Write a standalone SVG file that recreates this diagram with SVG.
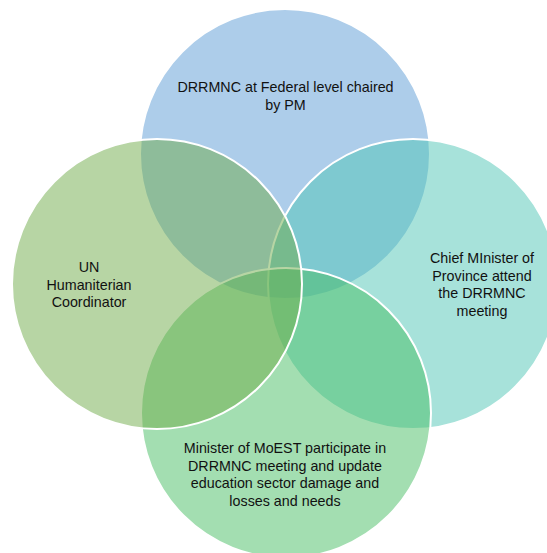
<svg xmlns="http://www.w3.org/2000/svg" width="547" height="553" viewBox="0 0 547 553">
<style>
.c{fill-opacity:0.5;stroke:#ffffff;stroke-width:2}
.t{font-family:"Liberation Sans",Arial,sans-serif;font-size:14.3px;fill:#111111;text-anchor:middle}
</style>
<rect width="547" height="553" fill="#ffffff"/>
<g id="connectors"></g>
<g id="node-top">
<circle class="c" cx="285" cy="154" r="145" fill="#5B9BD5"/>
<text class="t" x="285.5"><tspan x="285.5" y="92">DRRMNC at Federal level chaired</tspan><tspan x="285.5" y="110">by PM</tspan></text>
</g>
<g id="node-right">
<circle class="c" cx="413" cy="284" r="145" fill="#4FC5B5"/>
<text class="t"><tspan x="482" y="263">Chief MInister of</tspan><tspan x="482" y="280.5">Province attend</tspan><tspan x="482" y="298">the DRRMNC</tspan><tspan x="482" y="315.5">meeting</tspan></text>
</g>
<g id="node-bottom">
<circle class="c" cx="286" cy="413" r="145" fill="#47BD63"/>
<text class="t"><tspan x="285" y="453">Minister of MoEST participate in</tspan><tspan x="285" y="470.5">DRRMNC meeting and update</tspan><tspan x="285" y="488">education sector damage and</tspan><tspan x="285" y="505.5">losses and needs</tspan></text>
</g>
<g id="node-left">
<circle class="c" cx="157" cy="284" r="145" fill="#6FAB49"/>
<text class="t"><tspan x="89" y="272">UN</tspan><tspan x="89" y="289.5">Humaniterian</tspan><tspan x="89" y="307">Coordinator</tspan></text>
</g>
</svg>
